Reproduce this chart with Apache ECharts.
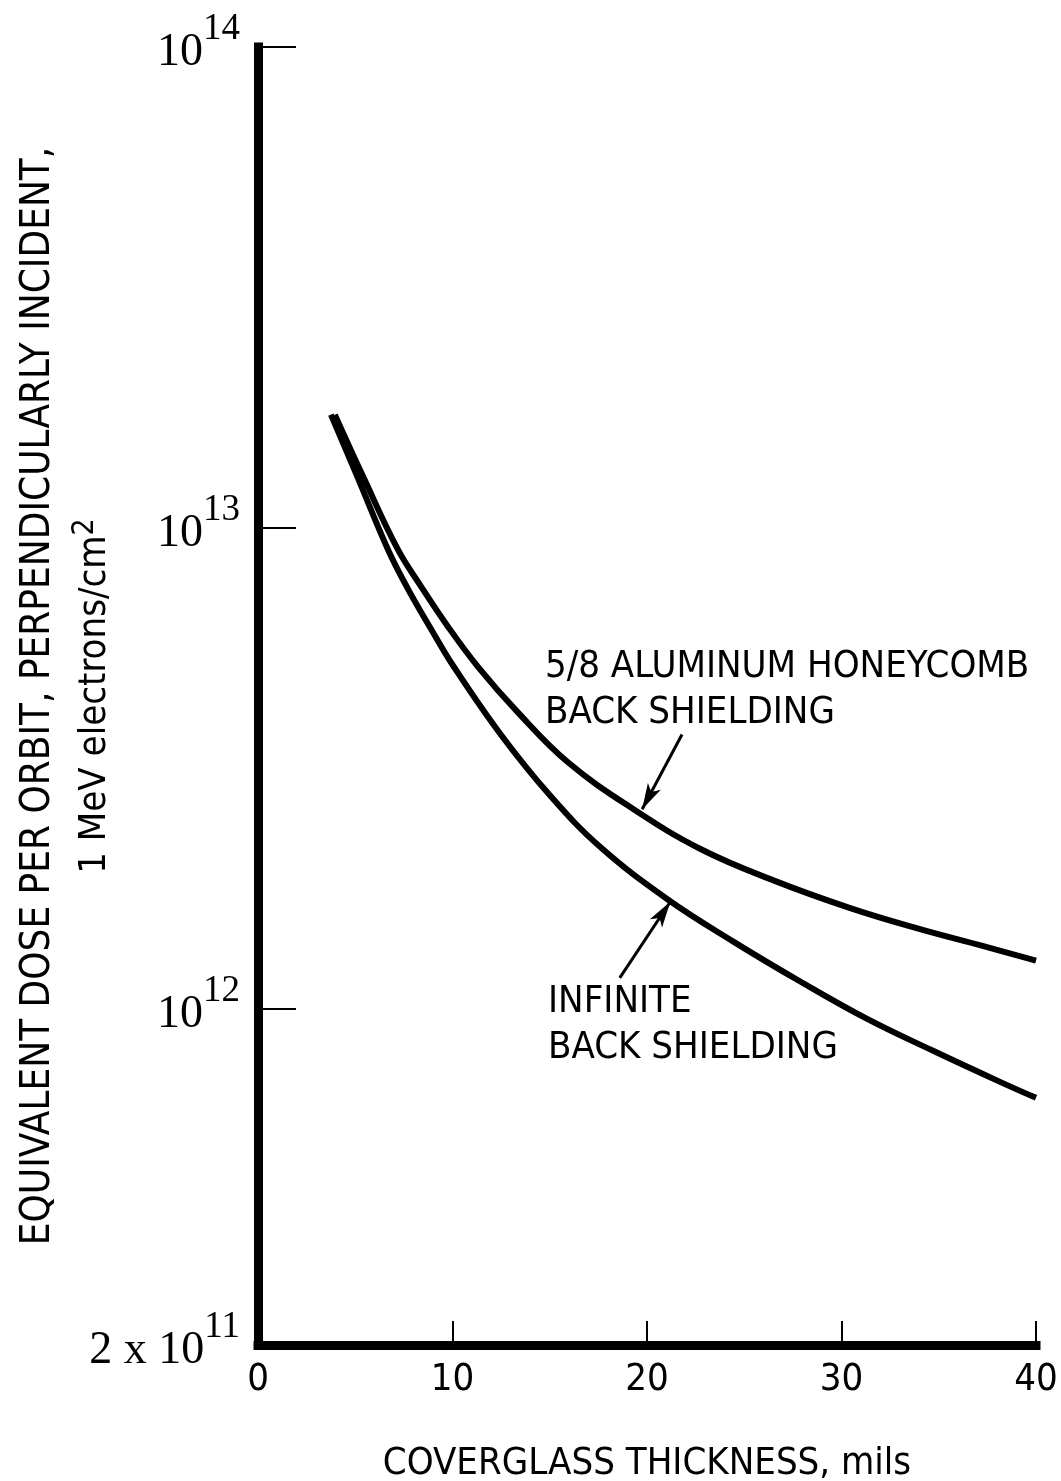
<!DOCTYPE html>
<html><head><meta charset="utf-8">
<script src="https://cdn.jsdelivr.net/npm/echarts@6/dist/echarts.min.js"></script>
<style>html,body{margin:0;padding:0;background:#fff}#c{width:1061px;height:1481px}</style>
</head><body><div id="c"></div>
<script>
// Coverglass thickness (mils) and equivalent dose (1 MeV e/cm^2 per orbit)
const thicknessHoneycomb = [3.95, 5.4, 7.19, 8.37, 9.76, 11.3, 13.35, 15.92, 19.31, 22.75, 26.5, 30.45, 33.9, 37.3, 40.0];
const doseHoneycomb = [1.72e13, 1.28e13, 9.02e12, 7.57e12, 6.24e12, 5.15e12, 4.14e12, 3.26e12, 2.6e12, 2.15e12, 1.85e12, 1.62e12, 1.47e12, 1.35e12, 1.26e12];
const thicknessInfinite = [3.75, 5.1, 6.68, 7.7, 8.88, 10.06, 12.48, 15.04, 17.6, 21.05, 24.44, 27.88, 31.32, 34.71, 38.15, 40.0];
const doseInfinite = [1.72e13, 1.28e13, 9.02e12, 7.48e12, 6.18e12, 5.15e12, 3.72e12, 2.77e12, 2.17e12, 1.69e12, 1.38e12, 1.14e12, 9.53e11, 8.18e11, 7.05e11, 6.53e11];
const xTicks = [0, 10, 20, 30, 40];
const yTickLabels = {"2e11": ["2 x 10", "11"], "1e12": ["10", "12"], "1e13": ["10", "13"], "1e14": ["10", "14"]};
// arrow annotations: [from, to] in data coordinates
const arrowHoneycomb = [[21.8, 3.72e12], [19.75, 2.6e12]];
const arrowInfinite = [[18.6, 1.16e12], [21.2, 1.67e12]];
const labelHoneycomb = "5/8 ALUMINUM HONEYCOMB\nBACK SHIELDING";
const labelInfinite = "INFINITE\nBACK SHIELDING";

const FONT = '"Liberation Sans Narrow", "DejaVu Sans Condensed", "DejaVu Sans", sans-serif';
const SERIF = '"Liberation Serif", "DejaVu Serif", serif';

function zip(a, b) { return a.map((v, i) => [v, b[i]]); }

const chart = echarts.init(document.getElementById('c'), null, {renderer: 'canvas'});
chart.setOption({
  backgroundColor: '#fff',
  animation: false,
  grid: {left: 258, right: 25, top: 47, bottom: 136, containLabel: false, outerBoundsMode: 'none'},
  xAxis: {
    type: 'value', min: 0, max: 40, interval: 10,
    axisLine: {show: true, lineStyle: {color: '#000', width: 9, cap: 'square'}},
    axisTick: {show: true, inside: true, length: 24, lineStyle: {color: '#000', width: 2}},
    splitLine: {show: false},
    axisLabel: {margin: 16, fontFamily: FONT, fontSize: 38, color: '#000',
      formatter: v => xTicks.includes(v) ? String(v) : ''},
    name: 'COVERGLASS THICKNESS, mils', nameLocation: 'middle', nameGap: 100, nameMoveOverlap: false,
    nameTextStyle: {fontFamily: FONT, fontSize: 38, color: '#000'}
  },
  yAxis: {
    type: 'log', logBase: 10, min: 2e11, max: 1e14,
    axisLine: {show: true, lineStyle: {color: '#000', width: 9, cap: 'square'}},
    axisTick: {show: true, inside: true, length: 38, lineStyle: {color: '#000', width: 2}},
    splitLine: {show: false},
    minorTick: {show: false},
    axisLabel: {
      margin: 18, color: '#000',
      formatter: function (v) {
        const k = v < 5e11 ? '2e11' : v < 5e12 ? '1e12' : v < 5e13 ? '1e13' : '1e14';
        const p = yTickLabels[k];
        return '{b|' + p[0] + '}{s|' + p[1] + '}';
      },
      rich: {
        b: {fontFamily: SERIF, fontSize: 46, color: '#000', padding: [12, 0, 0, 0]},
        s: {fontFamily: SERIF, fontSize: 37, color: '#000', padding: [0, 0, 36, 0]}
      }
    },
    name: '{a|EQUIVALENT DOSE PER ORBIT, PERPENDICULARLY INCIDENT,}\n{b|1 MeV electrons/cm}{s|2}',
    nameLocation: 'middle', nameRotate: 90, nameGap: 138, nameMoveOverlap: false,
    nameTextStyle: {
      rich: {
        a: {fontFamily: FONT, fontSize: 40, color: '#000', lineHeight: 62},
        b: {fontFamily: FONT, fontSize: 38, color: '#000', lineHeight: 44},
        s: {fontFamily: FONT, fontSize: 30, color: '#000', padding: [0, 0, 20, 0]}
      }
    }
  },
  graphic: [
    {type: 'text', left: 545, top: 644, style: {text: labelHoneycomb, font: '38px ' + FONT, fill: '#000', lineHeight: 46}},
    {type: 'text', left: 548, top: 979, style: {text: labelInfinite, font: '38px ' + FONT, fill: '#000', lineHeight: 46}}
  ],
  series: [
    {
      type: 'line', name: 'honeycomb', data: zip(thicknessHoneycomb, doseHoneycomb),
      smooth: 0.4, symbol: 'none', lineStyle: {color: '#000', width: 6},
      markLine: {
        silent: true, symbol: ['none', 'arrow'], symbolSize: [11, 26], label: {show: false},
        lineStyle: {color: '#000', width: 3, type: 'solid'},
        data: [[{coord: arrowHoneycomb[0]}, {coord: arrowHoneycomb[1]}]]
      }
    },
    {
      type: 'line', name: 'infinite', data: zip(thicknessInfinite, doseInfinite),
      smooth: 0.4, symbol: 'none', lineStyle: {color: '#000', width: 6},
      markLine: {
        silent: true, symbol: ['none', 'arrow'], symbolSize: [11, 26], label: {show: false},
        lineStyle: {color: '#000', width: 3, type: 'solid'},
        data: [[{coord: arrowInfinite[0]}, {coord: arrowInfinite[1]}]]
      }
    }
  ]
});
</script>
</body></html>
